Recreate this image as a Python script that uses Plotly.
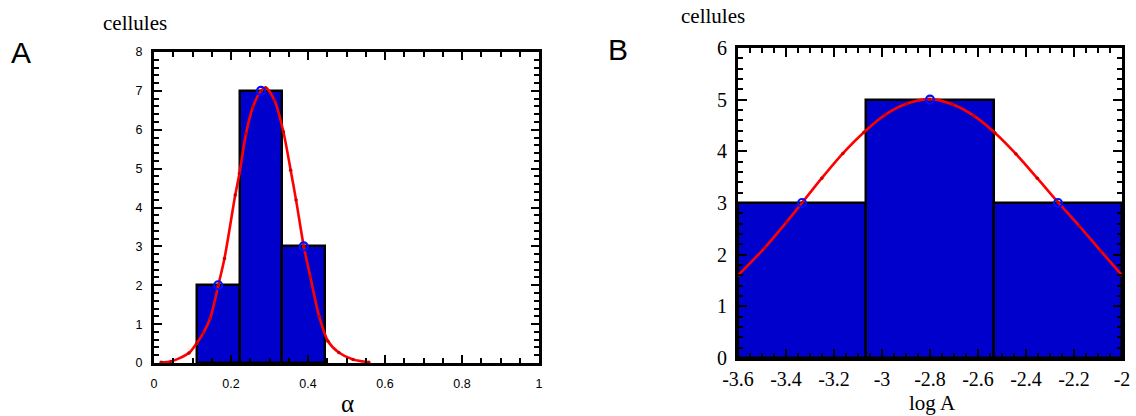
import plotly.graph_objects as go

# ---------- Panel A data ----------
a_bin_centers = [0.1667, 0.2778, 0.3889]
a_bin_width = 0.1111
a_counts = [2, 7, 3]
a_fit_x = [0.0185, 0.044, 0.091, 0.111, 0.128, 0.146, 0.167, 0.183, 0.211, 0.222,
           0.239, 0.257, 0.278, 0.290, 0.313, 0.336, 0.355, 0.369, 0.389, 0.406,
           0.429, 0.452, 0.480, 0.517, 0.558]
a_fit_y = [0.02, 0.04, 0.26, 0.51, 0.77, 1.15, 2.0, 2.69, 4.32, 4.88,
           5.9, 6.59, 7.0, 7.08, 6.76, 5.95, 4.96, 4.19, 3.0, 2.22,
           1.2, 0.56, 0.27, 0.09, 0.02]
a_xticks = [0, 0.2, 0.4, 0.6, 0.8, 1]
a_xticktext = ["0", "0.2", "0.4", "0.6", "0.8", "1"]
a_yticks = [0, 1, 2, 3, 4, 5, 6, 7, 8]

# ---------- Panel B data ----------
b_bin_centers = [-3.3333, -2.8, -2.2667]
b_bin_width = 0.5333
b_counts = [3, 5, 3]
b_fit_x = [-3.6, -3.487, -3.398, -3.332, -3.251, -3.163, -3.075, -2.986, -2.898, -2.802,
           -2.707, -2.618, -2.530, -2.442, -2.353, -2.268, -2.177, -2.088, -2.0]
b_fit_y = [1.60, 2.14, 2.63, 3.01, 3.48, 3.96, 4.37, 4.71, 4.92, 5.01,
           4.91, 4.69, 4.36, 3.95, 3.48, 3.02, 2.55, 2.07, 1.60]
b_xticks = [-3.6, -3.4, -3.2, -3.0, -2.8, -2.6, -2.4, -2.2, -2.0]
b_xticktext = ["-3.6", "-3.4", "-3.2", "-3", "-2.8", "-2.6", "-2.4", "-2.2", "-2"]
b_yticks = [0, 1, 2, 3, 4, 5, 6]

BAR_BLUE = "#0000CC"
RED = "#FF0000"
SANS = "Liberation Sans, Arial, sans-serif"
SERIF = "Liberation Serif, Times New Roman, serif"

fig = go.Figure()

def add_panel(xa, ya, centers, width, counts, fx, fy):
    fig.add_trace(go.Bar(
        x=centers, y=counts, width=width, xaxis=xa, yaxis=ya,
        marker=dict(color=BAR_BLUE, line=dict(color="black", width=2.5)),
        showlegend=False, hoverinfo="skip"))
    fig.add_trace(go.Scatter(
        x=fx, y=fy, xaxis=xa, yaxis=ya, mode="lines+markers",
        line=dict(color=RED, width=2.6, shape="spline", smoothing=0.8),
        marker=dict(color="#CC0000", size=3.5),
        showlegend=False, hoverinfo="skip"))
    fig.add_trace(go.Scatter(
        x=centers, y=counts, xaxis=xa, yaxis=ya, mode="markers",
        marker=dict(symbol="circle-open", size=8, color="#0010FF",
                    line=dict(width=2.2, color="#0010FF")),
        showlegend=False, hoverinfo="skip"))

add_panel("x", "y", a_bin_centers, a_bin_width, a_counts, a_fit_x, a_fit_y)
add_panel("x2", "y2", b_bin_centers, b_bin_width, b_counts, b_fit_x, b_fit_y)

W, H = 1136, 416

def axis_common(major_len):
    return dict(showline=True, linecolor="black", linewidth=3, mirror="ticks",
                ticks="inside", tickcolor="black", tickwidth=2, ticklen=major_len,
                showgrid=False, zeroline=False, layer="above traces", fixedrange=True,
                automargin=False)

fig.update_layout(
    template="none",
    width=W, height=H, margin=dict(l=0, r=0, t=0, b=0, pad=0, autoexpand=False),
    paper_bgcolor="white", plot_bgcolor="white", bargap=0, showlegend=False,
    xaxis=dict(**axis_common(8), domain=[154 / W, 539 / W], range=[0, 1],
               anchor="y", tickvals=a_xticks, ticktext=a_xticktext,
               tickfont=dict(family=SANS, size=12.5, color="black"),
               ticklabelstandoff=7,
               minor=dict(ticks="inside", dtick=0.05, ticklen=5, tickwidth=2,
                          tickcolor="black", showgrid=False)),
    yaxis=dict(**axis_common(8), domain=[1 - 363 / H, 1 - 52 / H], range=[0, 8],
               anchor="x", tickvals=a_yticks,
               tickfont=dict(family=SANS, size=12.5, color="black"),
               ticklabelstandoff=6,
               minor=dict(ticks="inside", dtick=0.2, ticklen=5, tickwidth=2,
                          tickcolor="black", showgrid=False)),
    xaxis2=dict(**axis_common(9), domain=[738 / W, 1122 / W], range=[-3.6, -2.0],
                anchor="y2", tickvals=b_xticks, ticktext=b_xticktext,
                tickfont=dict(family=SERIF, size=20, color="black"),
                ticklabelstandoff=1,
                minor=dict(ticks="inside", dtick=0.05, ticklen=5, tickwidth=2,
                           tickcolor="black", showgrid=False)),
    yaxis2=dict(**axis_common(9), domain=[1 - 358 / H, 1 - 48 / H], range=[0, 6],
                anchor="x2", tickvals=b_yticks,
                tickfont=dict(family=SERIF, size=20, color="black"),
                ticklabelstandoff=4,
                minor=dict(ticks="inside", dtick=0.2, ticklen=5, tickwidth=2,
                           tickcolor="black", showgrid=False)),
)

def ann(text, x, y, size, family):
    fig.add_annotation(text=text, x=x / W, y=1 - y / H, xref="paper", yref="paper",
                       showarrow=False, xanchor="center", yanchor="middle",
                       font=dict(family=family, size=size, color="black"))

ann("A", 21, 52, 30, SANS)
ann("B", 618, 49, 30, SANS)
ann("cellules", 135, 23, 21, SERIF)
ann("cellules", 713, 16, 21, SERIF)
ann("α", 347, 403, 25, SERIF)
ann("log A", 932, 403, 21, SERIF)

fig.write_html("out.html", config={"displayModeBar": False},
               post_script="document.body.style.margin='0px';document.body.style.overflow='hidden';")
